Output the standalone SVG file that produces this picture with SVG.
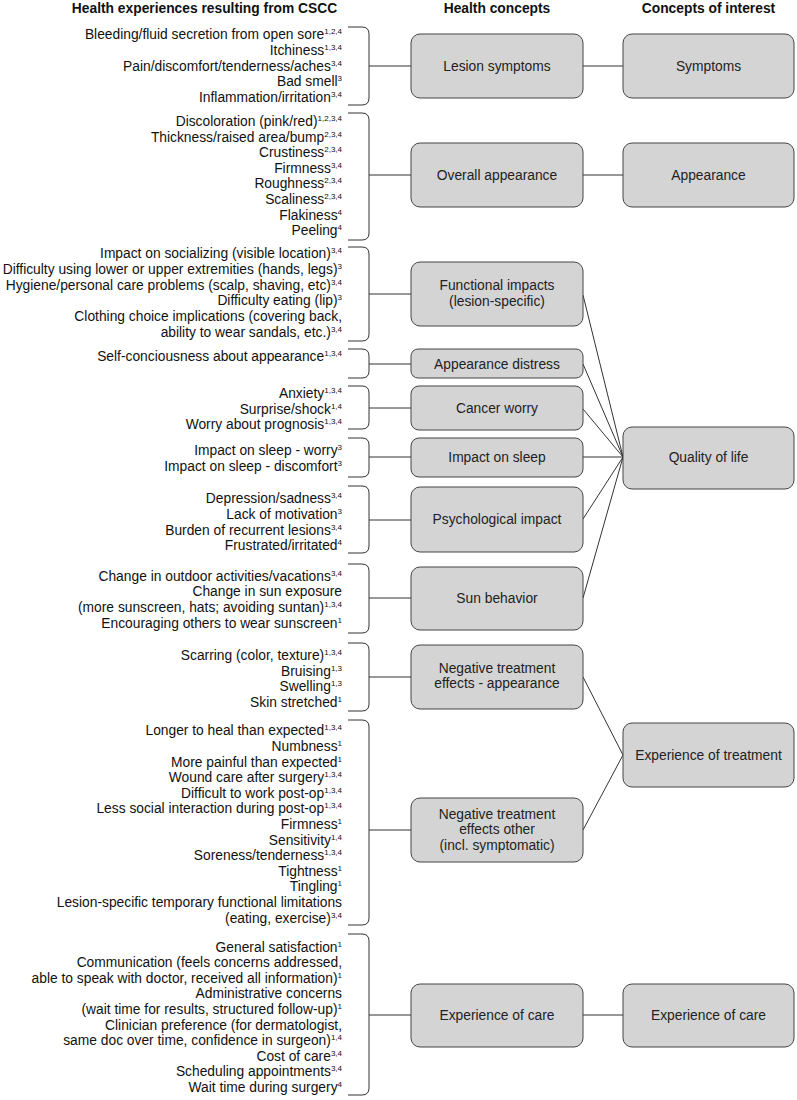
<svg xmlns="http://www.w3.org/2000/svg" width="797" height="1100" viewBox="0 0 797 1100">
<style>
.h{font-family:"Liberation Sans",Arial,sans-serif;font-weight:bold;font-size:13.8px;fill:#111;text-anchor:middle}
.l{font-family:"Liberation Sans",Arial,sans-serif;font-size:13.8px;fill:#111;text-anchor:end}
.l tspan.s{font-size:8px}
.b rect{fill:#d4d4d4;stroke:#444;stroke-width:1}
.b text{font-family:"Liberation Sans",Arial,sans-serif;font-size:13.8px;fill:#222;text-anchor:middle}
.br{fill:none;stroke:#333;stroke-width:1}
.c line{stroke:#333;stroke-width:1}
</style>
<g id="headers">
<text class="h" x="204.5" y="13">Health experiences resulting from CSCC</text>
<text class="h" x="497" y="13">Health concepts</text>
<text class="h" x="708.5" y="13">Concepts of interest</text>
</g>
<g id="experiences">
<text class="l" x="342" y="39.3">Bleeding/fluid secretion from open sore<tspan class="s" dy="-5">1,2,4</tspan></text>
<text class="l" x="342" y="55">Itchiness<tspan class="s" dy="-5">1,3,4</tspan></text>
<text class="l" x="342" y="70.6">Pain/discomfort/tenderness/aches<tspan class="s" dy="-5">3,4</tspan></text>
<text class="l" x="342" y="86.2">Bad smell<tspan class="s" dy="-5">3</tspan></text>
<text class="l" x="342" y="101.8">Inflammation/irritation<tspan class="s" dy="-5">3,4</tspan></text>

<text class="l" x="342" y="126">Discoloration (pink/red)<tspan class="s" dy="-5">1,2,3,4</tspan></text>
<text class="l" x="342" y="141.6">Thickness/raised area/bump<tspan class="s" dy="-5">2,3,4</tspan></text>
<text class="l" x="342" y="157.2">Crustiness<tspan class="s" dy="-5">2,3,4</tspan></text>
<text class="l" x="342" y="172.8">Firmness<tspan class="s" dy="-5">3,4</tspan></text>
<text class="l" x="342" y="188.4">Roughness<tspan class="s" dy="-5">2,3,4</tspan></text>
<text class="l" x="342" y="204">Scaliness<tspan class="s" dy="-5">2,3,4</tspan></text>
<text class="l" x="342" y="219.6">Flakiness<tspan class="s" dy="-5">4</tspan></text>
<text class="l" x="342" y="235.2">Peeling<tspan class="s" dy="-5">4</tspan></text>

<text class="l" x="342" y="258.3">Impact on socializing (visible location)<tspan class="s" dy="-5">3,4</tspan></text>
<text class="l" x="342" y="274">Difficulty using lower or upper extremities (hands, legs)<tspan class="s" dy="-5">3</tspan></text>
<text class="l" x="342" y="289.6">Hygiene/personal care problems (scalp, shaving, etc)<tspan class="s" dy="-5">3,4</tspan></text>
<text class="l" x="342" y="305.2">Difficulty eating (lip)<tspan class="s" dy="-5">3</tspan></text>
<text class="l" x="342" y="320.8">Clothing choice implications (covering back,</text>
<text class="l" x="342" y="336.5">ability to wear sandals, etc.)<tspan class="s" dy="-5">3,4</tspan></text>

<text class="l" x="342" y="360.7">Self-conciousness about appearance<tspan class="s" dy="-5">1,3,4</tspan></text>

<text class="l" x="342" y="398.3">Anxiety<tspan class="s" dy="-5">1,3,4</tspan></text>
<text class="l" x="342" y="413.9">Surprise/shock<tspan class="s" dy="-5">1,4</tspan></text>
<text class="l" x="342" y="429.4">Worry about prognosis<tspan class="s" dy="-5">1,3,4</tspan></text>

<text class="l" x="342" y="455">Impact on sleep - worry<tspan class="s" dy="-5">3</tspan></text>
<text class="l" x="342" y="470.5">Impact on sleep - discomfort<tspan class="s" dy="-5">3</tspan></text>

<text class="l" x="342" y="503.3">Depression/sadness<tspan class="s" dy="-5">3,4</tspan></text>
<text class="l" x="342" y="518.9">Lack of motivation<tspan class="s" dy="-5">3</tspan></text>
<text class="l" x="342" y="534.5">Burden of recurrent lesions<tspan class="s" dy="-5">3,4</tspan></text>
<text class="l" x="342" y="550">Frustrated/irritated<tspan class="s" dy="-5">4</tspan></text>

<text class="l" x="342" y="580.7">Change in outdoor activities/vacations<tspan class="s" dy="-5">3,4</tspan></text>
<text class="l" x="342" y="596.3">Change in sun exposure</text>
<text class="l" x="342" y="611.9">(more sunscreen, hats; avoiding suntan)<tspan class="s" dy="-5">1,3,4</tspan></text>
<text class="l" x="342" y="627.5">Encouraging others to wear sunscreen<tspan class="s" dy="-5">1</tspan></text>

<text class="l" x="342" y="660">Scarring (color, texture)<tspan class="s" dy="-5">1,3,4</tspan></text>
<text class="l" x="342" y="675.6">Bruising<tspan class="s" dy="-5">1,3</tspan></text>
<text class="l" x="342" y="691.2">Swelling<tspan class="s" dy="-5">1,3</tspan></text>
<text class="l" x="342" y="706.8">Skin stretched<tspan class="s" dy="-5">1</tspan></text>

<text class="l" x="342" y="735.3">Longer to heal than expected<tspan class="s" dy="-5">1,3,4</tspan></text>
<text class="l" x="342" y="750.9">Numbness<tspan class="s" dy="-5">1</tspan></text>
<text class="l" x="342" y="766.5">More painful than expected<tspan class="s" dy="-5">1</tspan></text>
<text class="l" x="342" y="782.1">Wound care after surgery<tspan class="s" dy="-5">1,3,4</tspan></text>
<text class="l" x="342" y="797.7">Difficult to work post-op<tspan class="s" dy="-5">1,3,4</tspan></text>
<text class="l" x="342" y="813.3">Less social interaction during post-op<tspan class="s" dy="-5">1,3,4</tspan></text>
<text class="l" x="342" y="828.9">Firmness<tspan class="s" dy="-5">1</tspan></text>
<text class="l" x="342" y="844.5">Sensitivity<tspan class="s" dy="-5">1,4</tspan></text>
<text class="l" x="342" y="860.1">Soreness/tenderness<tspan class="s" dy="-5">1,3,4</tspan></text>
<text class="l" x="342" y="875.7">Tightness<tspan class="s" dy="-5">1</tspan></text>
<text class="l" x="342" y="891.3">Tingling<tspan class="s" dy="-5">1</tspan></text>
<text class="l" x="342" y="906.9">Lesion-specific temporary functional limitations</text>
<text class="l" x="342" y="922.5">(eating, exercise)<tspan class="s" dy="-5">3,4</tspan></text>

<text class="l" x="342" y="951.5">General satisfaction<tspan class="s" dy="-5">1</tspan></text>
<text class="l" x="342" y="967.1">Communication (feels concerns addressed,</text>
<text class="l" x="342" y="982.7">able to speak with doctor, received all information)<tspan class="s" dy="-5">1</tspan></text>
<text class="l" x="342" y="998.3">Administrative concerns</text>
<text class="l" x="342" y="1013.9">(wait time for results, structured follow-up)<tspan class="s" dy="-5">1</tspan></text>
<text class="l" x="342" y="1029.5">Clinician preference (for dermatologist,</text>
<text class="l" x="342" y="1045.1">same doc over time, confidence in surgeon)<tspan class="s" dy="-5">1,4</tspan></text>
<text class="l" x="342" y="1060.7">Cost of care<tspan class="s" dy="-5">3,4</tspan></text>
<text class="l" x="342" y="1076.3">Scheduling appointments<tspan class="s" dy="-5">3,4</tspan></text>
<text class="l" x="342" y="1091.9">Wait time during surgery<tspan class="s" dy="-5">4</tspan></text>
</g>
<g id="braces">
<path class="br" d="M348,27 H362 Q369,27 369,34 V98 Q369,105 362,105 H348"/>
<path class="br" d="M348,113 H362 Q369,113 369,120 V233 Q369,240 362,240 H348"/>
<path class="br" d="M348,247 H362 Q369,247 369,254 V334 Q369,341 362,341 H348"/>
<path class="br" d="M348,349 H362 Q369,349 369,356 V371 Q369,378 362,378 H348"/>
<path class="br" d="M348,386 H362 Q369,386 369,393 V422 Q369,429 362,429 H348"/>
<path class="br" d="M348,438 H362 Q369,438 369,445 V470 Q369,477 362,477 H348"/>
<path class="br" d="M348,486 H362 Q369,486 369,493 V546 Q369,553 362,553 H348"/>
<path class="br" d="M348,564 H362 Q369,564 369,571 V626 Q369,633 362,633 H348"/>
<path class="br" d="M348,643 H362 Q369,643 369,650 V704 Q369,711 362,711 H348"/>
<path class="br" d="M348,720 H362 Q369,720 369,727 V918 Q369,925 362,925 H348"/>
<path class="br" d="M348,934 H362 Q369,934 369,941 V1088 Q369,1095 362,1095 H348"/>
</g>
<g id="connectors" class="c">
<line x1="369" y1="66" x2="411" y2="66"/>
<line x1="369" y1="175" x2="411" y2="175"/>
<line x1="369" y1="294" x2="411" y2="294"/>
<line x1="369" y1="364" x2="411" y2="364"/>
<line x1="369" y1="408" x2="411" y2="408"/>
<line x1="369" y1="457" x2="411" y2="457"/>
<line x1="369" y1="520" x2="411" y2="520"/>
<line x1="369" y1="598" x2="411" y2="598"/>
<line x1="369" y1="677" x2="411" y2="677"/>
<line x1="369" y1="830" x2="411" y2="830"/>
<line x1="369" y1="1015" x2="411" y2="1015"/>
<line x1="583" y1="66" x2="623" y2="66"/>
<line x1="583" y1="175" x2="623" y2="175"/>
<line x1="583" y1="295" x2="623" y2="457"/>
<line x1="583" y1="364" x2="623" y2="457"/>
<line x1="583" y1="409" x2="623" y2="457"/>
<line x1="583" y1="457" x2="623" y2="457"/>
<line x1="583" y1="519" x2="623" y2="457"/>
<line x1="583" y1="598" x2="623" y2="457"/>
<line x1="583" y1="677" x2="623" y2="755"/>
<line x1="583" y1="830" x2="623" y2="755"/>
<line x1="583" y1="1015" x2="623" y2="1015"/>
</g>
<g id="n-lesion" class="b"><rect x="411" y="34" width="172" height="64" rx="9"/><text x="497" y="71">Lesion symptoms</text></g>
<g id="n-overall" class="b"><rect x="411" y="143" width="172" height="64" rx="9"/><text x="497" y="180">Overall appearance</text></g>
<g id="n-functional" class="b"><rect x="411" y="262" width="172" height="64" rx="9"/><text x="497" y="290">Functional impacts</text><text x="497" y="305.6">(lesion-specific)</text></g>
<g id="n-appdistress" class="b"><rect x="411" y="349" width="172" height="29" rx="7"/><text x="497" y="369">Appearance distress</text></g>
<g id="n-cancer" class="b"><rect x="411" y="386" width="172" height="44" rx="8"/><text x="497" y="412.5">Cancer worry</text></g>
<g id="n-sleep" class="b"><rect x="411" y="438" width="172" height="39" rx="8"/><text x="497" y="462">Impact on sleep</text></g>
<g id="n-psych" class="b"><rect x="411" y="487" width="172" height="65" rx="9"/><text x="497" y="524">Psychological impact</text></g>
<g id="n-sun" class="b"><rect x="411" y="567" width="172" height="63" rx="9"/><text x="497" y="603">Sun behavior</text></g>
<g id="n-negapp" class="b"><rect x="411" y="645" width="172" height="64" rx="9"/><text x="497" y="672.5">Negative treatment</text><text x="497" y="688.1">effects - appearance</text></g>
<g id="n-negother" class="b"><rect x="411" y="798" width="172" height="64" rx="9"/><text x="497" y="819">Negative treatment</text><text x="497" y="834.4">effects other</text><text x="497" y="850">(incl. symptomatic)</text></g>
<g id="n-care" class="b"><rect x="411" y="984" width="172" height="63" rx="9"/><text x="497" y="1020">Experience of care</text></g>
<g id="c-symptoms" class="b"><rect x="623" y="34" width="171" height="64" rx="9"/><text x="708.5" y="71">Symptoms</text></g>
<g id="c-appearance" class="b"><rect x="623" y="143" width="171" height="64" rx="9"/><text x="708.5" y="180">Appearance</text></g>
<g id="c-qol" class="b"><rect x="623" y="427" width="171" height="62" rx="9"/><text x="708.5" y="462">Quality of life</text></g>
<g id="c-treatment" class="b"><rect x="623" y="723" width="171" height="64" rx="9"/><text x="708.5" y="759.5">Experience of treatment</text></g>
<g id="c-care" class="b"><rect x="623" y="984" width="171" height="63" rx="9"/><text x="708.5" y="1020">Experience of care</text></g>
</svg>
